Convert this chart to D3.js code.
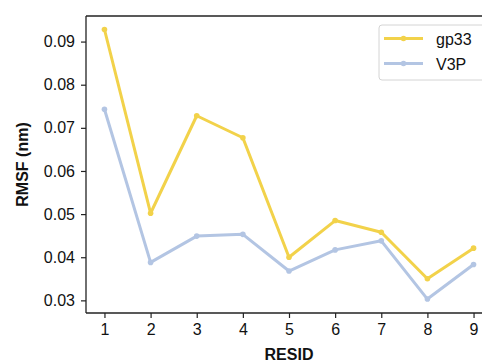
<!DOCTYPE html>
<html>
<head>
<meta charset="utf-8">
<script src="https://cdn.jsdelivr.net/npm/d3@7"></script>
<style>
  html, body { margin:0; padding:0; background:#fff; }
  svg { display:block; overflow:hidden; font-family:"Liberation Sans", Arial, sans-serif; }
</style>
</head>
<body>
<div id="chart"></div>
<script>
// RMSF per residue
const resid = [1, 2, 3, 4, 5, 6, 7, 8, 9];
const gp33 = [0.0928, 0.0502, 0.0728, 0.0677, 0.0400, 0.0485, 0.0458, 0.0350, 0.0421];
const v3p  = [0.0743, 0.0388, 0.0449, 0.0453, 0.0368, 0.0417, 0.0438, 0.0303, 0.0383];
const yTicks = [0.03, 0.04, 0.05, 0.06, 0.07, 0.08, 0.09];
const seriesNames = ['gp33', 'V3P'];
const seriesColors = ['#f2d24a', '#b3c5e3'];

(function(){
  const width = 482, height = 362;
  // plot area; right edge falls outside the picture, as in the original figure
  const left = 86, right = 492, top = 16, bottom = 313;

  const svg = d3.select('#chart').append('svg')
    .attr('width', width).attr('height', height);

  const x = d3.scaleLinear().domain([0.6, 9.4]).range([left, right]);
  const y = d3.scaleLinear().domain([0.02707, 0.09593]).range([bottom, top]);

  // spines
  svg.append('line').attr('x1', left).attr('x2', right).attr('y1', top).attr('y2', top)
    .attr('stroke', '#222').attr('stroke-width', 1.3);

  const xAxis = svg.append('g').attr('transform', `translate(0,${bottom})`)
    .call(d3.axisBottom(x).tickValues(resid).tickFormat(d3.format('d')).tickSizeOuter(0).tickSize(5).tickPadding(6));
  const yAxis = svg.append('g').attr('transform', `translate(${left},0)`)
    .call(d3.axisLeft(y).tickValues(yTicks).tickFormat(d3.format('.2f')).tickSizeOuter(0).tickSize(5).tickPadding(6));

  [xAxis, yAxis].forEach(a=>{
    a.select('.domain').attr('stroke', '#222').attr('stroke-width', 1.3);
    a.selectAll('.tick line').attr('stroke', '#222').attr('stroke-width', 1.2);
    a.selectAll('.tick text').attr('fill', '#111')
      .style('font-size', '16px').style('font-family', '"Liberation Sans", Arial, sans-serif');
  });
  // keep the left spine spanning the full plot height
  yAxis.select('.domain').attr('d', `M0,${bottom}V${top}`);
  xAxis.select('.domain').attr('d', `M${left},0H${right}`);

  // axis labels
  svg.append('text').attr('x', (left + right) / 2).attr('y', 359.5)
    .attr('text-anchor', 'middle').style('font-size', '16px').style('font-weight', 'bold')
    .attr('fill', '#111').text('RESID');
  svg.append('text').attr('transform', `translate(27.5,${(top + bottom) / 2}) rotate(-90)`)
    .attr('text-anchor', 'middle').style('font-size', '16px').style('font-weight', 'bold')
    .attr('fill', '#111').text('RMSF (nm)');

  // lines
  const line = d3.line().x((d, i) => x(resid[i])).y(d => y(d));
  const data = [gp33, v3p];
  data.forEach((vals, k)=>{
    svg.append('path').datum(vals).attr('d', line)
      .attr('fill', 'none').attr('stroke', seriesColors[k]).attr('stroke-width', 3)
      .attr('stroke-linejoin', 'round');
    svg.selectAll(null).data(vals).enter().append('circle')
      .attr('cx', (d, i) => x(resid[i])).attr('cy', d => y(d)).attr('r', 2.8)
      .attr('fill', seriesColors[k]);
  });

  // legend
  const lg = svg.append('g');
  lg.append('rect').attr('x', 379).attr('y', 25).attr('width', 106).attr('height', 55).attr('rx', 3)
    .attr('fill', '#fff').attr('fill-opacity', 0.85).attr('stroke', '#d4d4d4').attr('stroke-width', 1);
  seriesNames.forEach((name, k)=>{
    const ly = 38.5 + k * 25;
    lg.append('line').attr('x1', 384).attr('x2', 423).attr('y1', ly).attr('y2', ly)
      .attr('stroke', seriesColors[k]).attr('stroke-width', 3);
    lg.append('circle').attr('cx', 403.5).attr('cy', ly).attr('r', 2.8).attr('fill', seriesColors[k]);
    lg.append('text').attr('x', 436).attr('y', ly + 6).style('font-size', '16px')
      .attr('fill', '#111').text(name);
  });
})();
</script>
</body>
</html>
